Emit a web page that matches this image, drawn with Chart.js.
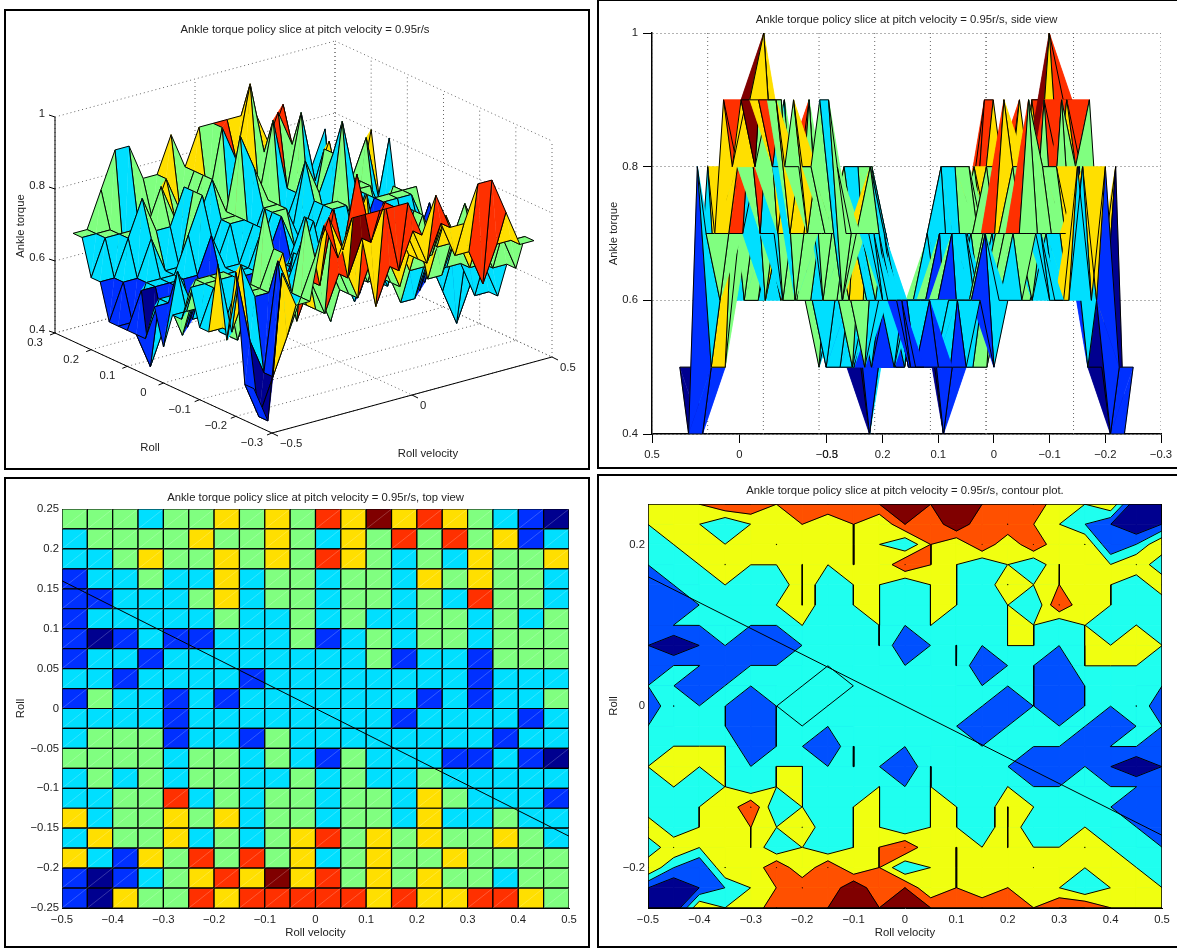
<!DOCTYPE html>
<html>
<head>
<meta charset="utf-8">
<title>Ankle torque policy slice</title>
<script src="https://cdn.jsdelivr.net/npm/chart.js@4"></script>
<style>
  html, body { margin: 0; padding: 0; background: #fff; width: 1177px; height: 948px; overflow: hidden; }
  .panel { position: absolute; border: 2px solid #000; box-sizing: border-box; background: #fff; }
  canvas { position: absolute; left: 0; top: 0; }
</style>
</head>
<body>
<div class="panel" id="panelSurface" style="left:4px;top:9px;width:586px;height:461px"><canvas id="surfaceChart" width="582" height="457"></canvas></div>
<div class="panel" id="panelSide" style="left:597px;top:-1px;width:600px;height:470px"><canvas id="sideChart" width="596" height="466"></canvas></div>
<div class="panel" id="panelTop" style="left:4px;top:477px;width:586px;height:471px"><canvas id="topChart" width="582" height="467"></canvas></div>
<div class="panel" id="panelContour" style="left:597px;top:474px;width:600px;height:474px"><canvas id="contourChart" width="596" height="470"></canvas></div>
<script>
const rollVelocity = [-0.5, -0.45, -0.4, -0.35, -0.3, -0.25, -0.2, -0.15, -0.1, -0.05, 0, 0.05, 0.1, 0.15, 0.2, 0.25, 0.3, 0.35, 0.4, 0.45, 0.5];
const rollValues = [0.25, 0.225, 0.2, 0.175, 0.15, 0.125, 0.1, 0.075, 0.05, 0.025, 0, -0.025, -0.05, -0.075, -0.1, -0.125, -0.15, -0.175, -0.2, -0.225, -0.25];
// one row per roll value, top row first
const torqueRows = [
  [.7,.7,.8,.9,.9,.8,.8,.9,.8,.9,.9,.9,.9,.9,.8,.9,.7,.7,.8,.4,.5],
  [.7,.7,.7,.6,.7,.7,.8,.7,.8,.7,.9,.8,1,.8,.9,.8,.7,.6,.5,.4,.5],
  [.6,.7,.7,.7,.7,.8,.7,.7,.8,.7,.6,.8,.7,.9,.7,.9,.7,.8,.5,.6,.8],
  [.6,.6,.7,.8,.7,.7,.8,.7,.8,.7,.9,.8,.7,.6,.7,.6,.8,.7,.7,.8,.6],
  [.5,.6,.6,.7,.6,.6,.8,.6,.7,.7,.6,.7,.7,.6,.8,.7,.8,.7,.7,.6,.8],
  [.5,.5,.6,.6,.6,.7,.8,.6,.7,.7,.6,.7,.7,.6,.7,.6,.9,.7,.7,.6,.6],
  [.5,.6,.6,.6,.6,.6,.7,.6,.6,.7,.6,.7,.6,.6,.7,.7,.6,.7,.6,.7,.6],
  [.5,.4,.5,.6,.5,.5,.6,.6,.6,.7,.5,.6,.7,.6,.7,.7,.6,.7,.7,.7,.7],
  [.5,.6,.6,.5,.6,.6,.6,.6,.6,.6,.6,.6,.7,.5,.6,.6,.5,.7,.7,.7,.6],
  [.6,.6,.5,.6,.6,.6,.6,.5,.6,.6,.6,.6,.6,.6,.6,.6,.5,.6,.6,.6,.6],
  [.5,.7,.6,.6,.5,.6,.5,.6,.6,.6,.6,.6,.6,.6,.5,.6,.5,.6,.6,.7,.5],
  [.6,.6,.6,.6,.5,.6,.6,.6,.6,.6,.6,.6,.6,.5,.6,.6,.6,.6,.5,.6,.6],
  [.6,.7,.7,.7,.5,.6,.6,.5,.7,.6,.6,.6,.6,.6,.6,.6,.6,.5,.6,.6,.5],
  [.7,.7,.7,.7,.6,.7,.7,.6,.7,.6,.5,.7,.6,.6,.6,.5,.5,.6,.5,.4,.5],
  [.6,.7,.6,.7,.6,.7,.7,.6,.6,.7,.6,.7,.6,.6,.7,.6,.6,.6,.6,.6,.5],
  [.6,.6,.7,.7,.9,.6,.7,.6,.7,.7,.6,.7,.7,.6,.8,.7,.6,.6,.6,.5,.5],
  [.8,.6,.7,.7,.8,.7,.8,.6,.7,.7,.6,.7,.7,.6,.8,.6,.6,.7,.6,.6,.5],
  [.6,.8,.7,.7,.8,.6,.7,.6,.7,.8,.9,.7,.8,.7,.8,.7,.7,.8,.7,.6,.6],
  [.8,.6,.5,.8,.7,.9,.7,.9,.7,.8,.6,.7,.8,.7,.7,.8,.7,.7,.7,.7,.6],
  [.5,.4,.5,.6,.7,.8,.9,.8,1,.8,.9,.7,.8,.7,.8,.7,.7,.6,.7,.7,.7],
  [.5,.4,.8,.7,.7,.9,.8,.9,.9,.9,.9,.9,.8,.9,.8,.8,.9,.9,.8,.7,.7]
];
const torqueLevels = [0.4, 0.5, 0.6, 0.7, 0.8, 0.9, 1];
const surfaceColors = ['#00008f', '#0030ff', '#00dfff', '#80ff80', '#ffdf00', '#ff3000', '#800000'];
const contourBreaks = [0.5, 0.6, 0.7, 0.8, 0.9];
const contourColors = ['#00008f', '#0050ff', '#1fffef', '#f0ff10', '#ff5000', '#800000'];
// this pocket is outlined in the original but its fill stayed cyan
const unfilledCols = [5, 6, 7];
const unfilledRows = [8, 9, 10];
const crossLineVel = [-0.5, 0.5];
const crossLineRoll = [0.16, -0.16];

const topXTicks = [-0.5, -0.4, -0.3, -0.2, -0.1, 0, 0.1, 0.2, 0.3, 0.4, 0.5];
const topYTicks = [-0.25, -0.2, -0.15, -0.1, -0.05, 0, 0.05, 0.1, 0.15, 0.2, 0.25];
const contourYTicks = [-0.2, 0, 0.2];
const zTicks = [0.4, 0.6, 0.8, 1];
const rollAxisTicks = [0.3, 0.2, 0.1, 0, -0.1, -0.2, -0.3];
const velAxisTicks = [-0.5, 0, 0.5];

const titleSurface = 'Ankle torque policy slice at pitch velocity = 0.95r/s';
const titleSide = 'Ankle torque policy slice at pitch velocity = 0.95r/s, side view';
const titleTop = 'Ankle torque policy slice at pitch velocity = 0.95r/s, top view';
const titleContour = 'Ankle torque policy slice at pitch velocity = 0.95r/s, contour plot.';

const FONT_SIZE = 11.3;
Chart.defaults.font.family = '"Liberation Sans", Arial, sans-serif';
Chart.defaults.font.size = FONT_SIZE;
Chart.defaults.color = '#222';

const fmt = v => String(Math.round(v * 1000) / 1000).replace('-', '\u2212');
const colorFor = z => surfaceColors[torqueLevels.findIndex(l => Math.abs(l - z) < 0.01)];

function polyDataset(points, fillColor, edgeColor, width) {
  return { data: points.concat([points[0]]), showLine: true, fill: 'shape', backgroundColor: fillColor,
    borderColor: edgeColor, borderWidth: width, pointRadius: 0, tension: 0 };
}
function lineDataset(points, color, width, dash) {
  return { data: points, showLine: true, fill: false, borderColor: color, borderWidth: width,
    borderDash: dash || [], pointRadius: 0, tension: 0 };
}
const DOTTED = [1, 3];

// Chart.js paints dataset 0 last, so hand over painter's order reversed
function baseOptions(extra) {
  return Object.assign({
    responsive: false, animation: false, events: [],
    plugins: { legend: { display: false }, tooltip: { enabled: false } }
  }, extra);
}

// cells of the surface, each with the colour of its lower left vertex
function surfaceQuads() {
  const quads = [];
  for (let t = 0; t < rollValues.length - 1; t++) {
    for (let c = 0; c < rollVelocity.length - 1; c++) {
      quads.push({
        vel: (rollVelocity[c] + rollVelocity[c + 1]) / 2,
        roll: (rollValues[t] + rollValues[t + 1]) / 2,
        color: colorFor(torqueRows[t + 1][c]),
        corners: [[c, t + 1], [c + 1, t + 1], [c + 1, t], [c, t]].map(([i, j]) =>
          ({ vel: rollVelocity[i], roll: rollValues[j], z: torqueRows[j][i] }))
      });
    }
  }
  return quads;
}

// a warped cell is filled as two triangles split on its rising diagonal, then outlined
function pushWarpedCell(sets, pts, color) {
  sets.push(polyDataset([pts[0], pts[1], pts[2]], color, color, 0.4));
  sets.push(polyDataset([pts[0], pts[2], pts[3]], color, color, 0.4));
  sets.push(lineDataset(pts.concat([pts[0]]), '#000', 1));
}

// --- 1. 3D view, scales run in page pixels so the projection stays readable ---
const project3d = (vel, roll, z) => ({
  x: 55 + (0.3 - roll) / 0.6 * 217 + (vel + 0.5) * 280,
  y: 333 + (0.3 - roll) / 0.6 * 100 - (vel + 0.5) * 76 - (z - 0.4) / 0.6 * 216
});

function surfaceDatasets() {
  const sets = [];
  const dotted = '#666';
  const seg = (a, b) => sets.push(lineDataset([a, b], dotted, 1, DOTTED));
  rollAxisTicks.forEach(r => {
    seg(project3d(-0.5, r, 0.4), project3d(0.5, r, 0.4));
    seg(project3d(0.5, r, 0.4), project3d(0.5, r, 1));
  });
  velAxisTicks.forEach(v => {
    seg(project3d(v, 0.3, 0.4), project3d(v, -0.3, 0.4));
    seg(project3d(v, 0.3, 0.4), project3d(v, 0.3, 1));
  });
  zTicks.forEach(z => {
    seg(project3d(-0.5, 0.3, z), project3d(0.5, 0.3, z));
    seg(project3d(0.5, 0.3, z), project3d(0.5, -0.3, z));
  });
  const near = q => -0.6 * q.vel - 0.8 * q.roll / 0.6;
  surfaceQuads().sort((a, b) => near(a) - near(b)).forEach(q => {
    pushWarpedCell(sets, q.corners.map(p => project3d(p.vel, p.roll, p.z)), q.color);
  });
  const solid = (a, b) => sets.push(lineDataset([a, b], '#000', 1));
  solid(project3d(-0.5, 0.3, 0.4), project3d(-0.5, -0.3, 0.4));
  solid(project3d(-0.5, -0.3, 0.4), project3d(0.5, -0.3, 0.4));
  solid(project3d(-0.5, 0.3, 0.4), project3d(-0.5, 0.3, 1));
  rollAxisTicks.forEach(r => {
    const p = project3d(-0.5, r, 0.4);
    solid(p, { x: p.x - 5, y: p.y + 2 });
  });
  velAxisTicks.forEach(v => {
    const p = project3d(v, -0.3, 0.4);
    solid(p, { x: p.x + 6, y: p.y + 3 });
  });
  zTicks.forEach(z => {
    const p = project3d(-0.5, 0.3, z);
    solid(p, { x: p.x - 6, y: p.y - 2 });
  });
  return sets.reverse();
}

const surfaceLabels = {
  id: 'surfaceLabels',
  afterDraw(chart) {
    const { ctx, scales: { x, y } } = chart;
    const put = (text, px, py, align) => {
      ctx.textAlign = align || 'center';
      ctx.fillText(text, x.getPixelForValue(px), y.getPixelForValue(py));
    };
    ctx.save();
    ctx.fillStyle = '#222';
    ctx.textBaseline = 'middle';
    ctx.font = FONT_SIZE + 'px "Liberation Sans"';
    put(titleSurface, 305, 30);
    rollAxisTicks.forEach(r => {
      const p = project3d(-0.5, r, 0.4);
      put(fmt(r), p.x - 20, p.y + 10);
    });
    velAxisTicks.forEach(v => {
      const p = project3d(v, -0.3, 0.4);
      put(fmt(v), p.x + 8, p.y + 11, 'left');
    });
    zTicks.forEach(z => {
      const p = project3d(-0.5, 0.3, z);
      put(fmt(z), p.x - 10, p.y - 3, 'right');
    });
    put('Roll', 150, 448);
    put('Roll velocity', 428, 454);
    ctx.translate(x.getPixelForValue(21), y.getPixelForValue(226));
    ctx.rotate(-Math.PI / 2);
    ctx.textAlign = 'center';
    ctx.fillText('Ankle torque', 0, 0);
    ctx.restore();
  }
};

new Chart(document.getElementById('surfaceChart'), {
  type: 'scatter',
  data: { datasets: surfaceDatasets() },
  options: baseOptions({
    scales: {
      x: { type: 'linear', display: false, min: 6, max: 588 },
      y: { type: 'linear', display: false, min: 11, max: 468, reverse: true }
    }
  }),
  plugins: [surfaceLabels]
});

// --- shared axes for the three flat panels, box given in page pixels ---
function flatOptions(canvasBox, plotBox, cfg) {
  const [cx, cy, cw, ch] = canvasBox;
  const [pl, pt, pr, pb] = plotBox;
  const lh = FONT_SIZE * 1.2;
  const opts = baseOptions({
    layout: { padding: { left: 0, top: 0, bottom: 0, right: cx + cw - pr } },
    plugins: {
      legend: { display: false }, tooltip: { enabled: false },
      title: { display: true, text: cfg.title, fullSize: false, color: '#222', font: { size: FONT_SIZE, weight: 'normal' },
        padding: { top: cfg.titleY - lh / 2 - cy, bottom: pt - cfg.titleY - lh / 2 } }
    },
    scales: {
      x: Object.assign({
        type: 'linear', afterFit: s => { s.height = cy + ch - pb; },
        border: { color: '#000', width: 1 },
        grid: { drawOnChartArea: false, drawTicks: false },
        ticks: { autoSkip: false, maxRotation: 0, padding: 5, color: '#222', font: { size: FONT_SIZE } }
      }, cfg.x),
      y: Object.assign({
        type: 'linear', afterFit: s => { s.width = pl - cx; },
        border: { color: '#000', width: 1 },
        grid: { drawOnChartArea: false, drawTicks: false },
        ticks: { autoSkip: false, padding: 3, color: '#222', font: { size: FONT_SIZE } },
        title: { display: true, text: cfg.yTitle, color: '#222', font: { size: FONT_SIZE },
          padding: { top: cfg.yTitleX - lh / 2 - cx, bottom: 0 } }
      }, cfg.y)
    }
  });
  if (cfg.xTitle) {
    opts.scales.x.title = { display: true, text: cfg.xTitle, color: '#222', font: { size: FONT_SIZE },
      padding: { top: 0, bottom: cy + ch - cfg.xTitleY - lh / 2 } };
  }
  return opts;
}

function plotBoxDataset(x0, x1, y0, y1) {
  return lineDataset([{ x: x0, y: y0 }, { x: x1, y: y0 }, { x: x1, y: y1 }, { x: x0, y: y1 }, { x: x0, y: y0 }], '#000', 1.5);
}
function crossLineDataset() {
  return lineDataset(crossLineVel.map((v, i) => ({ x: v, y: crossLineRoll[i] })), '#000', 1);
}

// --- 2. side view: everything collapses onto one horizontal coordinate ---
const sideU = (vel, roll) => -vel * 175 - roll * 557;
const sideTickValues = [];
const sideTickLabels = [];
velAxisTicks.slice().reverse().forEach(v => { sideTickValues.push(sideU(v, 0.3)); sideTickLabels.push(fmt(v)); });
// the 0.3 lands on top of the -0.5, digits over digits, hence the figure space
rollAxisTicks.forEach(r => { sideTickValues.push(sideU(-0.5, r)); sideTickLabels.push(r === 0.3 ? '\u2007' + fmt(r) : fmt(r)); });

function sideDatasets() {
  const sets = [];
  const vertical = u => sets.push(lineDataset([{ x: u, y: 0.4 }, { x: u, y: 1 }], '#666', 1, DOTTED));
  rollAxisTicks.forEach(r => vertical(sideU(0.5, r)));
  velAxisTicks.forEach(v => vertical(sideU(v, -0.3)));
  const near = q => -0.88 * q.vel + 0.46 * q.roll / 0.6;
  surfaceQuads().sort((a, b) => near(a) - near(b)).forEach(q => {
    pushWarpedCell(sets, q.corners.map(p => ({ x: sideU(p.vel, p.roll), y: p.z })), q.color);
  });
  return sets.reverse();
}

const sideOpts = flatOptions([599, 1, 596, 466], [652, 33, 1161, 434], {
  title: titleSide, titleY: 20, yTitle: 'Ankle torque', yTitleX: 614,
  x: { min: sideU(0.5, 0.3), max: sideU(-0.5, -0.3),
    afterBuildTicks: s => { s.ticks = sideTickValues.map(value => ({ value })); } },
  y: { min: 0.4, max: 1, afterBuildTicks: s => { s.ticks = zTicks.map(value => ({ value })); } }
});
sideOpts.scales.x.ticks.callback = (v, i) => sideTickLabels[i];
sideOpts.scales.x.grid = { drawOnChartArea: false, drawTicks: true, tickLength: 9, tickColor: '#000' };
sideOpts.scales.x.border = { color: '#000', width: 1.5 };
sideOpts.scales.y.ticks.callback = v => fmt(v);
sideOpts.scales.y.ticks.padding = 5;
sideOpts.scales.y.grid = { drawOnChartArea: true, drawTicks: true, tickLength: 9, tickColor: '#000', color: '#666' };
sideOpts.scales.y.border = { color: '#000', width: 1.5, dash: DOTTED };

new Chart(document.getElementById('sideChart'), {
  type: 'scatter', data: { datasets: sideDatasets() }, options: sideOpts
});

// --- 3. top view ---
function topDatasets() {
  const sets = [];
  const hatch = [];
  surfaceQuads().forEach(q => {
    const pts = q.corners.map(p => ({ x: p.vel, y: p.roll }));
    sets.push(polyDataset(pts, q.color, '#000', 1.2));
    hatch.push(pts[0], pts[2], { x: NaN, y: NaN });
  });
  sets.push(lineDataset(hatch, 'rgba(255,255,255,0.35)', 0.6));
  sets.push(crossLineDataset());
  return sets.reverse();
}
const topOpts = flatOptions([6, 479, 582, 467], [62, 509, 569, 908], {
  title: titleTop, titleY: 498, yTitle: 'Roll', yTitleX: 21, xTitle: 'Roll velocity', xTitleY: 933,
  x: { min: -0.5, max: 0.5, afterBuildTicks: s => { s.ticks = topXTicks.map(value => ({ value })); } },
  y: { min: -0.25, max: 0.25, afterBuildTicks: s => { s.ticks = topYTicks.map(value => ({ value })); } }
});
topOpts.scales.x.ticks.callback = v => fmt(v);
topOpts.scales.y.ticks.callback = v => fmt(v);
new Chart(document.getElementById('topChart'), {
  type: 'scatter', data: { datasets: topDatasets() }, options: topOpts
});

// --- 4. filled contours by marching squares on the same grid ---
const LEVEL_EPS = 0.001;   // values sit exactly on the levels, lean below so ridges show up as slivers

function polyArea(p) {
  let s = 0;
  for (let i = 0; i < p.length; i++) {
    const q = p[(i + 1) % p.length];
    s += p[i].x * q.y - q.x * p[i].y;
  }
  return Math.abs(s) / 2;
}

// region of one cell at or above a level, and the contour pieces bounding it
function marchCell(corners, level) {
  const above = corners.map(p => p.z >= level);
  const cross = corners.map((a, i) => {
    const b = corners[(i + 1) % 4];
    if (above[i] === above[(i + 1) % 4]) return null;
    const s = (level - a.z) / (b.z - a.z);
    return { x: a.x + (b.x - a.x) * s, y: a.y + (b.y - a.y) * s };
  });
  const count = above.filter(Boolean).length;
  if (count === 0) return { polys: [], segs: [] };
  const walk = [];
  corners.forEach((p, i) => {
    if (above[i]) walk.push(p);
    if (cross[i]) walk.push(cross[i]);
  });
  if (count === 4) return { polys: [walk], segs: [] };
  const around = i => [cross[(i + 3) % 4], cross[i]];
  const saddle = count === 2 && above[0] === above[2];
  if (!saddle) return { polys: [walk], segs: [cross.filter(Boolean)] };
  const mean = corners.reduce((s, p) => s + p.z, 0) / 4;
  const highs = [0, 1, 2, 3].filter(i => above[i]);
  const lows = [0, 1, 2, 3].filter(i => !above[i]);
  if (mean >= level) return { polys: [walk], segs: lows.map(around) };
  return { polys: highs.map(i => [corners[i], cross[i], cross[(i + 3) % 4]]), segs: highs.map(around) };
}

function contourDatasets() {
  // low bands first, so a band's seam stroke never lands on a higher band
  const layers = contourColors.map(() => []);
  const edges = [];
  const minArea = 0.05 * 0.025 * 0.01;
  for (let t = 0; t < rollValues.length - 1; t++) {
    for (let c = 0; c < rollVelocity.length - 1; c++) {
      const pt = (i, j) => ({ x: rollVelocity[i], y: rollValues[j], z: torqueRows[j][i] });
      const corners = [pt(c, t), pt(c + 1, t), pt(c + 1, t + 1), pt(c, t + 1)];
      const unfilled = unfilledCols.includes(c) && unfilledRows.includes(t);
      const band = k => (unfilled && k === 1 ? 2 : k);
      const paint = (points, k, width) => {
        const color = contourColors[band(k)];
        layers[band(k)].push(polyDataset(points.map(p => ({ x: p.x, y: p.y })), color, color, width));
      };
      const lowest = Math.min(...corners.map(p => p.z));
      const base = contourBreaks.filter(b => lowest >= b - LEVEL_EPS).length;
      paint(corners, base, 0.8);
      contourBreaks.forEach((b, j) => {
        const { polys, segs } = marchCell(corners, b - LEVEL_EPS);
        if (j >= base) polys.filter(p => polyArea(p) > minArea).forEach(p => paint(p, j + 1, 0.6));
        segs.forEach(s => edges.push(s[0], s[1], { x: NaN, y: NaN }));
      });
    }
  }
  const sets = layers.flat();
  sets.push(lineDataset(edges, '#000', 1));
  sets.push(crossLineDataset());
  sets.push(plotBoxDataset(-0.5, 0.5, -0.25, 0.25));
  return sets.reverse();
}
const contourOpts = flatOptions([599, 476, 596, 470], [648, 504, 1162, 908], {
  title: titleContour, titleY: 491, yTitle: 'Roll', yTitleX: 614, xTitle: 'Roll velocity', xTitleY: 933,
  x: { min: -0.5, max: 0.5, afterBuildTicks: s => { s.ticks = topXTicks.map(value => ({ value })); } },
  y: { min: -0.25, max: 0.25, afterBuildTicks: s => { s.ticks = contourYTicks.map(value => ({ value })); } }
});
contourOpts.scales.x.ticks.callback = v => fmt(v);
contourOpts.scales.y.ticks.callback = v => fmt(v);
new Chart(document.getElementById('contourChart'), {
  type: 'scatter', data: { datasets: contourDatasets() }, options: contourOpts
});
</script>
</body>
</html>
